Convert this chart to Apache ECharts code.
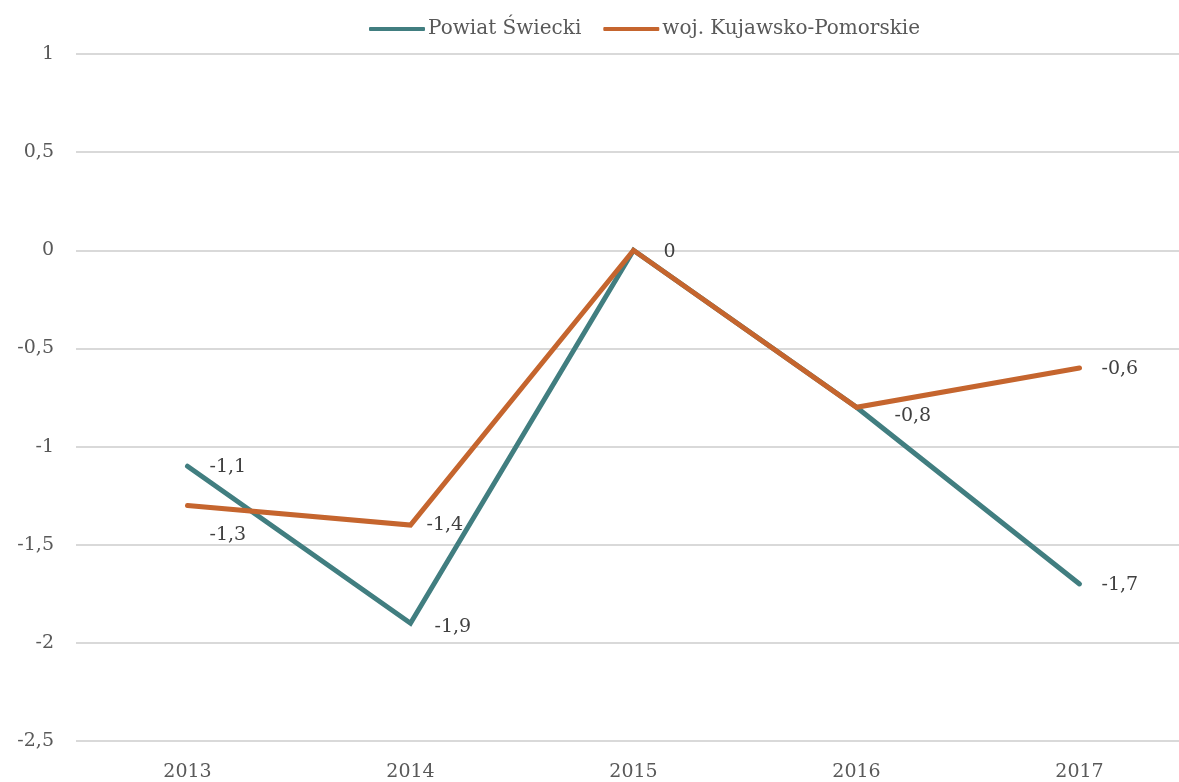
<!DOCTYPE html>
<html>
<head>
<meta charset="utf-8">
<script src="https://cdn.jsdelivr.net/npm/echarts@6/dist/echarts.min.js"></script>
<style>
  html, body { margin: 0; padding: 0; background: #fff; overflow: hidden; }
  #chart { width: 1191px; height: 782px; }
</style>
</head>
<body>
<div id="chart"></div>
<script>
const years = ['2013', '2014', '2015', '2016', '2017'];
const powiat = [-1.1, -1.9, 0, -0.8, -1.7];
const wojewodztwo = [-1.3, -1.4, 0, -0.8, -0.6];
const seriesNames = ['Powiat Świecki', 'woj. Kujawsko-Pomorskie'];

const fontFamily = '"DejaVu Serif", "Liberation Serif", serif';
const textColor = '#595959';
const comma = v => String(v).replace('.', ',');

// per-point label tweaks (offsets)
const powiatLabels = [
  { offset: [0, 1] },
  { offset: [2, 4] },
  { offset: [8, 2] },
  { offset: [16, 9] },
  { offset: [0, 1] }
];
const wojLabels = [
  { offset: [0, 30] },
  { offset: [-6, 0] },
  { show: false },
  { show: false },
  { offset: [0, 1] }
];

const labelBase = {
  show: true,
  position: 'right',
  distance: 22,
  fontSize: 19,
  color: '#404040',
  fontFamily: fontFamily,
  formatter: p => comma(p.value)
};

const chart = echarts.init(document.getElementById('chart'));
const option = {
  animation: false,
  textStyle: { fontFamily: fontFamily },
  legend: {
    top: 14,
    left: 364,
    itemWidth: 56,
    itemHeight: 4,
    itemGap: 22,
    icon: 'roundRect',
    textStyle: { fontFamily: fontFamily, fontSize: 20, color: textColor, padding: [0, 0, 0, -2] },
    data: seriesNames
  },
  grid: { left: 76, right: 0, top: 54, bottom: 41 },
  xAxis: {
    type: 'category',
    data: years,
    boundaryGap: true,
    axisLine: { show: false },
    axisTick: { show: false },
    axisLabel: { margin: 22, fontSize: 19, color: textColor, fontFamily: fontFamily }
  },
  yAxis: {
    type: 'value',
    min: -2.5,
    max: 1,
    interval: 0.5,
    axisLine: { show: false },
    axisTick: { show: false },
    splitLine: { lineStyle: { color: '#d9d9d9', width: 2 } },
    axisLabel: {
      margin: 22,
      fontSize: 19,
      color: textColor,
      fontFamily: fontFamily,
      formatter: comma
    }
  },
  series: [
    {
      name: seriesNames[0],
      type: 'line',
      showSymbol: true,
      symbol: 'circle',
      symbolSize: 0,
      color: '#417E80',
      lineStyle: { width: 5, color: '#417E80', cap: 'round', join: 'miter' },
      label: labelBase,
      data: powiat.map((v, i) => ({ value: v, label: powiatLabels[i] }))
    },
    {
      name: seriesNames[1],
      type: 'line',
      showSymbol: true,
      symbol: 'circle',
      symbolSize: 0,
      color: '#C5652E',
      lineStyle: { width: 5, color: '#C5652E', cap: 'round', join: 'miter' },
      label: labelBase,
      data: wojewodztwo.map((v, i) => ({ value: v, label: wojLabels[i] }))
    }
  ]
};
chart.setOption(option);
</script>
</body>
</html>
